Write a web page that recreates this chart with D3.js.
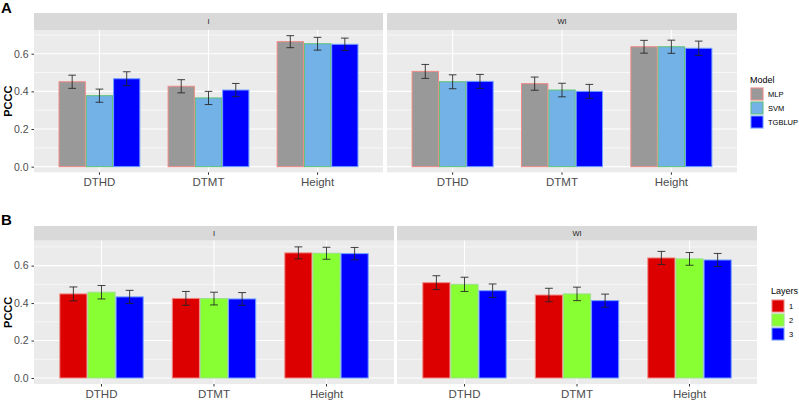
<!DOCTYPE html>
<html><head><meta charset="utf-8">
<script src="https://cdn.jsdelivr.net/npm/d3@7"></script>
<style>body{margin:0;background:#fff}svg{display:block;font-family:"Liberation Sans",Arial,sans-serif}</style>
</head><body><svg id="c" width="799" height="403"></svg>
<script>
// ---- data ----
const categories = ["DTHD", "DTMT", "Height"];
const environments = ["I", "WI"];
const models = ["MLP", "SVM", "TGBLUP"];
const layers = ["1", "2", "3"];
const yTicks = [0, 0.2, 0.4, 0.6];
const yMinor = [0.1, 0.3, 0.5, 0.7];

// Panel A (Model): means and error half-widths, per environment
const mlpI = [0.451, 0.427, 0.664];
const svmI = [0.377, 0.365, 0.653];
const tgblupI = [0.467, 0.407, 0.650];
const mlpWI = [0.506, 0.441, 0.637];
const svmWI = [0.451, 0.407, 0.637];
const tgblupWI = [0.453, 0.400, 0.629];
const mlpErrI = [0.035, 0.035, 0.032];
const svmErrI = [0.035, 0.035, 0.034];
const tgblupErrI = [0.037, 0.035, 0.033];
const mlpErrWI = [0.037, 0.035, 0.034];
const svmErrWI = [0.037, 0.036, 0.035];
const tgblupErrWI = [0.037, 0.037, 0.038];

// Panel B (Layers)
const layer1I = [0.449, 0.425, 0.668];
const layer2I = [0.458, 0.424, 0.666];
const layer3I = [0.433, 0.422, 0.664];
const layer1WI = [0.509, 0.443, 0.641];
const layer2WI = [0.500, 0.449, 0.636];
const layer3WI = [0.466, 0.413, 0.630];
const layer1ErrI = [0.037, 0.037, 0.032];
const layer2ErrI = [0.036, 0.034, 0.032];
const layer3ErrI = [0.035, 0.034, 0.033];
const layer1ErrWI = [0.037, 0.036, 0.035];
const layer2ErrWI = [0.038, 0.036, 0.034];
const layer3ErrWI = [0.036, 0.035, 0.035];

// ---- build tables ----
const modelTable = {
  I: [mlpI, svmI, tgblupI], WI: [mlpWI, svmWI, tgblupWI]
};
const modelErr = {
  I: [mlpErrI, svmErrI, tgblupErrI], WI: [mlpErrWI, svmErrWI, tgblupErrWI]
};
const layerTable = {
  I: [layer1I, layer2I, layer3I], WI: [layer1WI, layer2WI, layer3WI]
};
const layerErr = {
  I: [layer1ErrI, layer2ErrI, layer3ErrI], WI: [layer1ErrWI, layer2ErrWI, layer3ErrWI]
};

const svg = d3.select("#c");

function drawFigure(cfg) {
  const g = svg.append("g");
  // panel label
  g.append("text").attr("x", 1).attr("y", cfg.labelY).text(cfg.label)
    .attr("font-size", 15).attr("font-weight", "bold").attr("fill", "#000");
  const y = d3.scaleLinear().domain(cfg.yDomain).range([cfg.panelBottom, cfg.panelTop]);

  cfg.panels.forEach((px, pi) => {
    const env = environments[pi];
    const x = d3.scaleBand().domain(categories).range(px)
      .paddingInner(0.25).paddingOuter(0.225);
    const xs = d3.scaleBand().domain(cfg.series).range([0, x.bandwidth()]).padding(0);
    const pg = g.append("g");
    // strip
    pg.append("rect").attr("x", px[0]).attr("y", cfg.stripTop)
      .attr("width", px[1] - px[0]).attr("height", cfg.panelTop - cfg.stripTop).attr("fill", "#d9d9d9");
    pg.append("text").attr("x", (px[0] + px[1]) / 2).attr("y", (cfg.stripTop + cfg.panelTop) / 2 + 2.5)
      .attr("text-anchor", "middle").attr("font-size", 7.5).attr("fill", "#1a1a1a").text(env);
    // panel bg
    pg.append("rect").attr("x", px[0]).attr("y", cfg.panelTop)
      .attr("width", px[1] - px[0]).attr("height", cfg.panelBottom - cfg.panelTop).attr("fill", "#ebebeb");
    // grid
    pg.selectAll(".gmin").data(yMinor).join("line")
      .attr("x1", px[0]).attr("x2", px[1]).attr("y1", d => y(d)).attr("y2", d => y(d))
      .attr("stroke", "#fff").attr("stroke-width", 0.6);
    pg.selectAll(".gmaj").data(yTicks).join("line")
      .attr("x1", px[0]).attr("x2", px[1]).attr("y1", d => y(d)).attr("y2", d => y(d))
      .attr("stroke", "#fff").attr("stroke-width", 1.1);
    pg.selectAll(".gv").data(categories).join("line")
      .attr("x1", d => x(d) + x.bandwidth() / 2).attr("x2", d => x(d) + x.bandwidth() / 2)
      .attr("y1", cfg.panelTop).attr("y2", cfg.panelBottom)
      .attr("stroke", "#fff").attr("stroke-width", 1.1);
    // bars
    const vals = cfg.values[env], errs = cfg.errors[env];
    const data = [];
    cfg.series.forEach((s, si) => categories.forEach((c, ci) => {
      data.push({ c, s, si, v: vals[si][ci], e: errs[si][ci] });
    }));
    pg.selectAll(".bar").data(data).join("rect")
      .attr("x", d => x(d.c) + xs(d.s) + 0.5).attr("width", xs.bandwidth() - 1)
      .attr("y", d => y(d.v)).attr("height", d => y(0) - y(d.v))
      .attr("fill", d => cfg.fills[d.si]).attr("stroke", d => cfg.strokes[d.si]).attr("stroke-width", 1);
    const ww = xs.bandwidth() * 0.14;
    const eg = pg.selectAll(".err").data(data).join("g")
      .attr("stroke", "#222").attr("stroke-opacity", 0.85).attr("stroke-width", 1);
    eg.append("line").attr("x1", d => x(d.c) + xs(d.s) + xs.bandwidth() / 2)
      .attr("x2", d => x(d.c) + xs(d.s) + xs.bandwidth() / 2)
      .attr("y1", d => y(d.v + d.e)).attr("y2", d => y(d.v - d.e));
    eg.append("line").attr("x1", d => x(d.c) + xs(d.s) + xs.bandwidth() / 2 - ww)
      .attr("x2", d => x(d.c) + xs(d.s) + xs.bandwidth() / 2 + ww)
      .attr("y1", d => y(d.v + d.e)).attr("y2", d => y(d.v + d.e));
    eg.append("line").attr("x1", d => x(d.c) + xs(d.s) + xs.bandwidth() / 2 - ww)
      .attr("x2", d => x(d.c) + xs(d.s) + xs.bandwidth() / 2 + ww)
      .attr("y1", d => y(d.v - d.e)).attr("y2", d => y(d.v - d.e));
    // x axis
    const xa = pg.append("g").attr("transform", `translate(0,${cfg.panelBottom})`)
      .call(d3.axisBottom(x).tickSizeInner(2.5).tickSizeOuter(0).tickPadding(3));
    xa.select(".domain").remove();
    xa.selectAll("line").attr("stroke", "#333");
    xa.selectAll("text").attr("font-size", 11.5).attr("fill", "#4d4d4d")
      .attr("font-family", "Liberation Sans, Arial, sans-serif");
    // y axis on first panel
    if (pi === 0) {
      const ya = pg.append("g").attr("transform", `translate(${px[0]},0)`)
        .call(d3.axisLeft(y).tickValues(yTicks).tickFormat(d3.format(".1f"))
          .tickSizeInner(2.5).tickSizeOuter(0).tickPadding(3));
      ya.select(".domain").remove();
      ya.selectAll("line").attr("stroke", "#333");
      ya.selectAll("text").attr("font-size", 10.5).attr("fill", "#4d4d4d")
        .attr("font-family", "Liberation Sans, Arial, sans-serif");
    }
  });
  // y title
  g.append("text").attr("transform", `translate(12,${(cfg.panelTop + cfg.panelBottom) / 2}) rotate(-90)`)
    .attr("text-anchor", "middle").attr("font-size", 11).attr("font-weight", "bold").text("PCCC");
  // legend
  const lg = g.append("g");
  lg.append("text").attr("x", cfg.legX).attr("y", cfg.legTitleY).attr("font-size", 9)
    .attr("fill", "#000").text(cfg.legTitle);
  const kh = cfg.keyH;
  cfg.series.forEach((s, i) => {
    lg.append("rect").attr("x", cfg.legX).attr("y", cfg.legKeyTop + i * kh)
      .attr("width", kh).attr("height", kh).attr("fill", "#f2f2f2");
    lg.append("rect").attr("x", cfg.legX + 1).attr("y", cfg.legKeyTop + i * kh + 1)
      .attr("width", kh - 2).attr("height", kh - 2)
      .attr("fill", cfg.fills[i]).attr("stroke", cfg.strokes[i]).attr("stroke-width", 1);
    lg.append("text").attr("x", cfg.legX + kh + 4).attr("y", cfg.legKeyTop + i * kh + kh / 2 + 2.7)
      .attr("font-size", 7.5).attr("fill", "#000").text(s);
  });
}

drawFigure({
  label: "A", labelY: 13,
  stripTop: 13, panelTop: 30, panelBottom: 172.3, yDomain: [-0.03, 0.726],
  panels: [[34, 383], [387, 737]],
  series: models, values: modelTable, errors: modelErr,
  fills: ["#999999", "#73b2e6", "#0000ff"],
  strokes: ["#f08a84", "#5cc27a", "#6f9fff"],
  legTitle: "Model", legX: 750, legTitleY: 82.5, legKeyTop: 87, keyH: 14
});
drawFigure({
  label: "B", labelY: 225,
  stripTop: 226, panelTop: 240.7, panelBottom: 384, yDomain: [-0.032, 0.733],
  panels: [[34, 394], [397, 757]],
  series: layers, values: layerTable, errors: layerErr,
  fills: ["#dd0000", "#88ff33", "#0000ff"],
  strokes: ["#f08a84", "#9be08a", "#6f9fff"],
  legTitle: "Layers", legX: 771, legTitleY: 293.5, legKeyTop: 299, keyH: 14
});
</script></body></html>
